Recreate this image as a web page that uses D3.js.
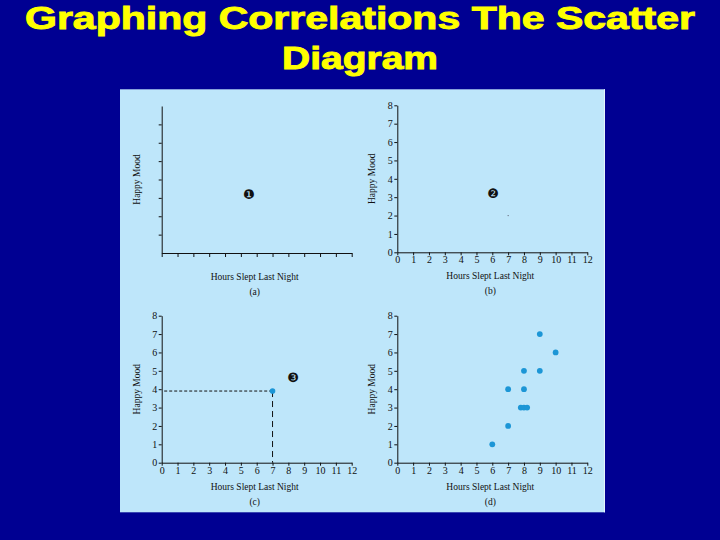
<!DOCTYPE html>
<html>
<head>
<meta charset="utf-8">
<script src="https://cdn.jsdelivr.net/npm/d3@7"></script>
<style>
  html, body { margin: 0; padding: 0; background: #000092; }
  svg { display: block; }
</style>
</head>
<body>
<svg id="chart" width="720" height="540"></svg>
<script>
// --- data ---
const titleLines = ["Graphing Correlations The Scatter", "Diagram"];
const panelIds = ["a", "b", "c", "d"];
const xTicks = [0, 1, 2, 3, 4, 5, 6, 7, 8, 9, 10, 11, 12];
const yTicks = [0, 1, 2, 3, 4, 5, 6, 7, 8];
const yTicksBare = [1, 2, 3, 4, 5, 6, 7];
const xLabel = "Hours Slept Last Night";
const yLabel = "Happy Mood";
const steps = [
  { panel: "a", mark: "\u2776", x: 5.5, y: 3.2 },
  { panel: "b", mark: "\u2777", x: 6.05, y: 3.2 },
  { panel: "c", mark: "\u2778", x: 8.3, y: 4.65 }
];
const pointC = [7, 3.9];
const pointsD = [
  [6, 1], [7, 2], [7, 4], [7.8, 3], [8, 3], [8.2, 3],
  [8, 4], [8, 5], [9, 5], [9, 7], [10, 6]
];
const strayB = [[7, 2]];

// --- layout ---
const W = 720, H = 540;
const plotW = 190, plotH = 147;
const origins = {
  a: [161.7, 253],
  b: [397.3, 252.3],
  c: [161.7, 462.7],
  d: [397.3, 462.7]
};
const dotColor = "#1c96d6";
const serif = "'Liberation Serif', 'Times New Roman', serif";

const svg = d3.select("#chart");

svg.append("rect")
  .attr("width", W).attr("height", H)
  .attr("fill", "#000092");

// title
svg.append("g")
  .selectAll("text")
  .data(titleLines)
  .join("text")
  .attr("x", 360)
  .attr("y", (d, i) => i === 0 ? 29 : 69)
  .attr("text-anchor", "middle")
  .attr("font-family", "'Liberation Sans', Arial, sans-serif")
  .attr("font-weight", "bold")
  .attr("font-size", 31)
  .attr("fill", "#ffff00")
  .attr("stroke", "#ffff00")
  .attr("stroke-width", 0.9)
  .attr("textLength", (d, i) => i === 0 ? 670 : 156)
  .attr("lengthAdjust", "spacingAndGlyphs")
  .text(d => d);

// light panel behind the four plots
svg.append("rect")
  .attr("x", 120).attr("y", 89.3)
  .attr("width", 485).attr("height", 423)
  .attr("fill", "#bee6fa");
svg.append("line")
  .attr("x1", 604.5).attr("x2", 604.5)
  .attr("y1", 89.3).attr("y2", 512.3)
  .attr("stroke", "#e4f4fc").attr("stroke-width", 1);

const x = d3.scaleLinear().domain([0, 12]).range([0, plotW]);
const y = d3.scaleLinear().domain([0, 8]).range([plotH, 0]);

panelIds.forEach(id => {
  const [ox, oy] = origins[id];
  const g = svg.append("g")
    .attr("transform", `translate(${ox},${oy - plotH})`);

  const bare = id === "a";

  const xAxis = d3.axisBottom(x)
    .tickValues(xTicks)
    .tickSize(bare ? 4 : 3)
    .tickSizeOuter(0)
    .tickPadding(1);
  if (bare) xAxis.tickFormat("");

  const yAxis = d3.axisLeft(y)
    .tickValues(bare ? yTicksBare : yTicks)
    .tickSize(3)
    .tickSizeOuter(0)
    .tickPadding(1.5);
  if (bare) yAxis.tickFormat("");

  const gx = g.append("g")
    .attr("transform", `translate(0,${plotH})`)
    .call(xAxis);
  const gy = g.append("g").call(yAxis);

  [gx, gy].forEach(ax => {
    ax.selectAll("path, line").attr("stroke", "#111").attr("stroke-width", 1);
    ax.selectAll("text")
      .attr("fill", "#111")
      .attr("font-family", serif)
      .attr("font-size", 10);
  });

  g.append("text")
    .attr("x", plotW / 2 - 2)
    .attr("y", plotH + 27)
    .attr("text-anchor", "middle")
    .attr("font-family", serif)
    .attr("font-size", 9.5)
    .attr("fill", "#111")
    .text(xLabel);

  g.append("text")
    .attr("x", plotW / 2 - 2)
    .attr("y", plotH + 42)
    .attr("text-anchor", "middle")
    .attr("font-family", serif)
    .attr("font-size", 9.5)
    .attr("fill", "#111")
    .text(`(${id})`);

  g.append("text")
    .attr("transform", `translate(-22,${plotH / 2}) rotate(-90)`)
    .attr("text-anchor", "middle")
    .attr("font-family", serif)
    .attr("font-size", 9.5)
    .attr("fill", "#111")
    .text(yLabel);

  steps.filter(s => s.panel === id).forEach(s => {
    g.append("text")
      .attr("x", x(s.x))
      .attr("y", y(s.y))
      .attr("dy", "0.35em")
      .attr("text-anchor", "middle")
      .attr("font-family", "'DejaVu Sans', sans-serif")
      .attr("font-size", 13)
      .attr("fill", "#111")
      .text(s.mark);
  });

  if (id === "b") {
    g.selectAll("circle.stray")
      .data(strayB)
      .join("circle")
      .attr("class", "stray")
      .attr("cx", d => x(d[0]))
      .attr("cy", d => y(d[1]))
      .attr("r", 0.6)
      .attr("fill", "#556");
  }

  if (id === "c") {
    g.append("line")
      .attr("x1", 2.5).attr("x2", x(pointC[0]))
      .attr("y1", y(pointC[1])).attr("y2", y(pointC[1]))
      .attr("stroke", "#111").attr("stroke-width", 1)
      .attr("stroke-dasharray", "3,2");
    g.append("line")
      .attr("x1", x(pointC[0])).attr("x2", x(pointC[0]))
      .attr("y1", y(pointC[1])).attr("y2", plotH)
      .attr("stroke", "#111").attr("stroke-width", 1)
      .attr("stroke-dasharray", "6,4");
    g.append("circle")
      .attr("cx", x(pointC[0]))
      .attr("cy", y(pointC[1]))
      .attr("r", 2.8)
      .attr("fill", dotColor);
  }

  if (id === "d") {
    g.selectAll("circle.pt")
      .data(pointsD)
      .join("circle")
      .attr("class", "pt")
      .attr("cx", d => x(d[0]))
      .attr("cy", d => y(d[1]))
      .attr("r", 2.9)
      .attr("fill", dotColor);
  }
});
</script>
</body>
</html>
